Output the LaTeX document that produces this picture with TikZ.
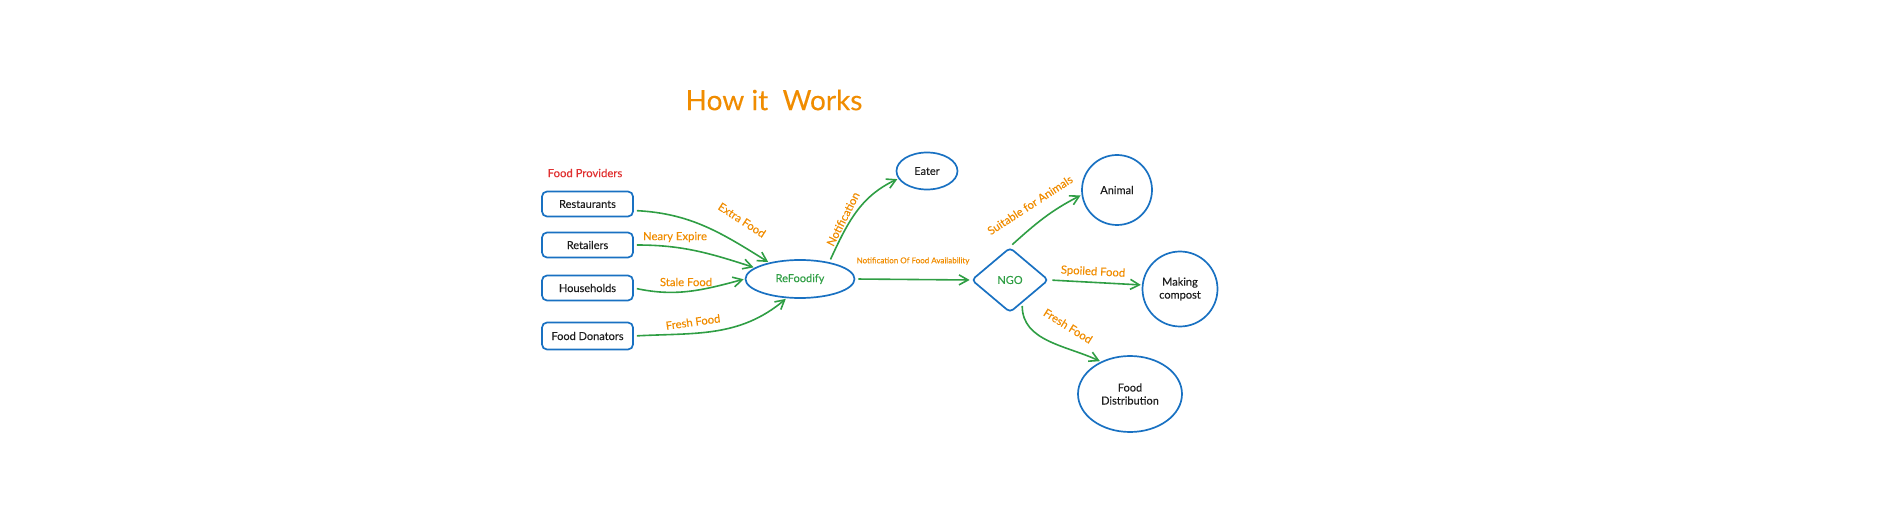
\documentclass[tikz,border=0pt]{standalone}
\usepackage{fontspec}
\setmainfont{Lato}[RawFeature={embolden=0.15}]
\usetikzlibrary{shapes.geometric,arrows.meta}
\definecolor{eblue}{HTML}{1971C2}
\definecolor{egreen}{HTML}{2F9E44}
\definecolor{eorange}{HTML}{F08C00}
\definecolor{ered}{HTML}{E03131}
\definecolor{etext}{HTML}{1E1E1E}
\tikzset{
  box/.style={draw=eblue, line width=1.7pt, rounded corners=5pt, minimum width=91pt, minimum height=25pt, inner sep=0pt, text=etext, font=\fontsize{11}{13}\selectfont},
  oval/.style={ellipse, draw=eblue, line width=1.7pt, inner sep=0pt, text=etext, align=center, font=\fontsize{11}{13}\selectfont},
  circ/.style={circle, draw=eblue, line width=1.7pt, inner sep=0pt, text=etext, align=center, font=\fontsize{11}{13}\selectfont},
  flow/.style={draw=egreen, line width=1.6pt, -{Straight Barb[length=9pt,width=10pt,line width=1.6pt]}, shorten <=3pt, shorten >=1pt},
  lbl/.style={text=eorange, inner sep=0pt, font=\fontsize{11.3}{13}\selectfont},
}
\begin{document}
\begin{tikzpicture}[x=1pt,y=1pt]
\path[use as bounding box] (0,0) rectangle (1880,512);
% title
\node[text=eorange, font=\fontsize{28}{32}\selectfont] (title) at (774,412) {How it\ \ Works};
\node[text=ered, font=\fontsize{11.3}{13}\selectfont] (prov) at (585,339) {Food Providers};
% provider boxes
\node[box] (rest) at (587.5,308) {Restaurants};
\node[box] (ret) at (587.5,267) {Retailers};
\node[box] (house) at (587.5,224) {Households};
\node[box, minimum height=27pt] (don) at (587.5,176) {Food Donators};
% center
\node[oval, minimum width=109pt, minimum height=38pt, text=egreen] (ref) at (800,233) {ReFoodify};
\node[oval, minimum width=61pt, minimum height=37pt] (eater) at (927,341) {Eater};
\node[diamond, draw=eblue, line width=1.7pt, rounded corners=4pt, minimum width=77pt, minimum height=65pt, inner sep=0pt, text=egreen, font=\fontsize{11}{13}\selectfont] (ngo) at (1010,232) {NGO};
\node[circ, minimum size=70pt] (animal) at (1117,322) {Animal};
\node[circ, minimum size=75pt] (comp) at (1180,223) {Making\\compost};
\node[oval, minimum width=104pt, minimum height=76pt] (dist) at (1130,118) {Food\\Distribution};
% connectors
\draw[flow] (rest.-8) to[out=-3, in=148] (ref.152);
\draw[flow] (ret.east) to[out=0, in=162] (ref.166);
\draw[flow] (house.east) to[out=-12, in=195] (ref.west);
\draw[flow] (don.east) to[out=3, in=-140] (ref.235);
\draw[flow] (ref.30) to[out=65, in=205] (eater.195);
\draw[flow] (ref.east) -- (ngo.west);
\draw[flow] (ngo.north) to[out=42, in=207] (animal.188);
\draw[flow] (ngo.east) -- (comp.174);
\draw[flow] (ngo.-62) to[out=-90, in=155] (dist.132);
% labels
\node[lbl, rotate=-33] (l1) at (742,292) {Extra Food};
\node[lbl] (l2) at (675,275) {Neary Expire};
\node[lbl] (l3) at (686,230) {Stale Food};
\node[lbl, rotate=8] (l4) at (693,190) {Fresh Food};
\node[lbl, rotate=63] (l5) at (843,293) {Notification};
\node[lbl, font=\fontsize{8}{9}\selectfont] (l6) at (913,251) {Notification Of Food Availability};
\node[lbl, rotate=33] (l7) at (1030,307) {Suitable for Animals};
\node[lbl, rotate=-3] (l8) at (1093,240) {Spoiled Food};
\node[lbl, rotate=-32] (l9) at (1068,186) {Fresh Food};
\end{tikzpicture}
\end{document}
